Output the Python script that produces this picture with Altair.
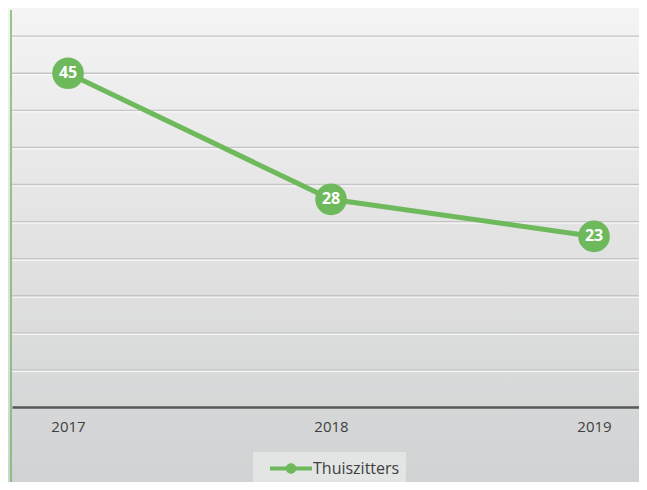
import altair as alt
import pandas as pd

years = [2017, 2018, 2019]
values = [45, 28, 23]
series = ["Thuiszitters", "Thuiszitters", "Thuiszitters"]
grid_values = [5, 10, 15, 20, 25, 30, 35, 40, 45, 50]

W, H = 627, 399
GREEN = "#6fb95d"
FONT = "Open Sans"

df = pd.DataFrame({"jaar": years, "aantal": values, "reeks": series})
grid_df = pd.DataFrame({"v": grid_values})
one = pd.DataFrame({"a": [0]})

xscale = alt.Scale(domain=[2016.787, 2019.171], nice=False, zero=False)
yscale = alt.Scale(domain=[0, 53.8], nice=False)

x_axis = alt.Axis(
    values=years, format="d", title=None, grid=False, ticks=False,
    domainColor="#575757", domainWidth=2.5, labelFont=FONT, labelFontSize=15,
    labelColor="#404040", labelPadding=12, zindex=1,
)
x_enc = alt.X("jaar:Q", scale=xscale, axis=x_axis)
y_enc = alt.Y("aantal:Q", scale=yscale, axis=None)

bg = alt.Chart(one).mark_rect(
    color=alt.Gradient(
        gradient="linear",
        stops=[
            alt.GradientStop(offset=0, color="#f4f4f4"),
            alt.GradientStop(offset=0.5, color="#e2e2e2"),
            alt.GradientStop(offset=1, color="#d0d2d3"),
        ],
        x1=0, x2=0, y1=0, y2=1,
    )
).encode(x=alt.value(-4), x2=alt.value(W), y=alt.value(0), y2=alt.value(474))

grid_dark = alt.Chart(grid_df).mark_rule(color="#c4c4c4", strokeWidth=1.3).encode(
    y=alt.Y("v:Q", scale=yscale, axis=None)
)
grid_light = alt.Chart(grid_df).mark_rule(color="#fbfbfb", strokeWidth=1, yOffset=1.5).encode(
    y=alt.Y("v:Q", scale=yscale, axis=None)
)

left_rule = alt.Chart(one).mark_rule(color="#74b960", strokeWidth=1.5).encode(
    x=alt.value(-1), y=alt.value(2), y2=alt.value(474)
)

line = alt.Chart(df).mark_line(color=GREEN, strokeWidth=5).encode(x=x_enc, y=y_enc)

legend_symbol = "M0.05,-0.2H4.05V0.2H0.05Z M2.55,0A0.5,0.5 0 1,1 1.55,0A0.5,0.5 0 1,1 2.55,0Z"

points = alt.Chart(df).mark_circle(size=1000, opacity=1).encode(
    x=x_enc, y=y_enc,
    color=alt.Color(
        "reeks:N", scale=alt.Scale(range=[GREEN]),
        legend=alt.Legend(
            title=None, orient="none", legendX=241, legendY=444,
            fillColor="#e3e4e4", padding=6, symbolType=legend_symbol,
            symbolSize=441, symbolStrokeWidth=0, symbolOpacity=1,
            labelOffset=33, labelFont=FONT, labelFontSize=16, labelColor="#404040",
        ),
    ),
)

labels = alt.Chart(df).mark_text(
    color="white", font=FONT, fontWeight="bold", fontSize=16, baseline="middle", align="center"
).encode(x=x_enc, y=y_enc, text="aantal:Q")

chart = alt.layer(bg, grid_dark, grid_light, left_rule, line, points, labels).properties(
    width=W, height=H,
    padding={"left": 4, "top": 0, "right": 0, "bottom": 75},
    autosize=alt.AutoSizeParams(type="none"),
).configure_view(strokeWidth=0)

chart.save("out.html", embed_options={"renderer": "svg", "actions": False})
